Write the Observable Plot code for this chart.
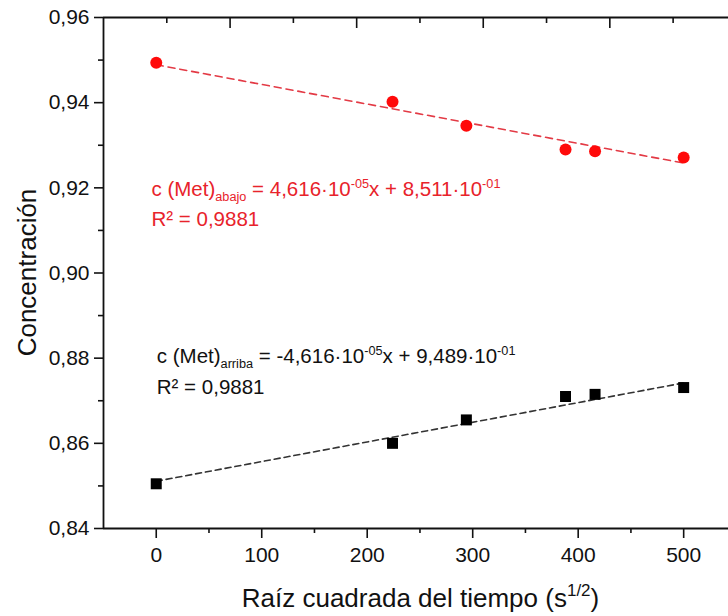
<!DOCTYPE html>
<html><head><meta charset="utf-8">
<script src="https://cdn.jsdelivr.net/npm/d3@7"></script>
<script src="https://cdn.jsdelivr.net/npm/@observablehq/plot@0.6"></script>
<style>body{margin:0;background:#fff}</style>
</head><body><div id="chart"></div>
<script>
// ---- data ----
const sqrtTime   = [0, 224, 294, 388, 416, 500];
const concAbajo  = [0.9494, 0.9402, 0.9346, 0.9290, 0.9286, 0.9271];
const concArriba = [0.8505, 0.8600, 0.8655, 0.8710, 0.8715, 0.8731];
const fitSlopes     = [-4.616e-5, 4.616e-5];   // abajo (red), arriba (black)
const fitIntercepts = [0.9489, 0.8511];
const xTicks   = [0, 100, 200, 300, 400, 500];
const xMinor   = [-50, 50, 150, 250, 350, 450];
const yTicks   = [0.84, 0.86, 0.88, 0.90, 0.92, 0.94, 0.96];
const yMinor   = [0.85, 0.87, 0.89, 0.91, 0.93, 0.95];
const topMajor = [70, 190, 310, 430];
const topMinor = [10, 130, 250, 370, 490];
const eqAbajo  = [[["c (Met)",""],["abajo","sub"],[" = 4,616·10",""],["-05","sup"],["x + 8,511·10",""],["-01","sup"]],[["R² = 0,9881",""]]];
const eqArriba = [[["c (Met)",""],["arriba","sub"],[" = -4,616·10",""],["-05","sup"],["x + 9,489·10",""],["-01","sup"]],[["R² = 0,9881",""]]];
const eqAnchors = [[-4, 0.9180], [1, 0.8787]];

const RED = "#ff0a0a", RED_TXT = "#e8232b", RED_LINE = "#e33a45";
const FONT = "'Liberation Sans', Arial, sans-serif";

const ptsAbajo  = sqrtTime.map((x, i) => ({x, y: concAbajo[i]}));
const ptsArriba = sqrtTime.map((x, i) => ({x, y: concArriba[i]}));
const xExt = d3.extent(sqrtTime);
const fitLine = k => xExt.map(x => ({x, y: fitIntercepts[k] + fitSlopes[k] * x}));
const fmtY = d => d.toFixed(2).replace(".", ",");

function richText(lines, anchor, color, size, gap) {
  return (index, scales) => {
    const g = d3.create("svg:g")
      .attr("font-family", FONT).attr("font-size", size).attr("fill", color)
      .attr("text-anchor", "start");
    const x0 = scales.x(anchor[0]), y0 = scales.y(anchor[1]);
    lines.forEach((parts, li) => {
      const t = g.append("text").attr("x", x0).attr("y", y0 + li * gap).attr("text-anchor", "start");
      let off = 0;
      parts.forEach(([s, kind]) => {
        const target = kind === "sub" ? 5 : kind === "sup" ? -8 : 0;
        t.append("tspan").attr("dy", target - off)
          .attr("font-size", kind ? size * 0.62 : size).text(s);
        off = target;
      });
    });
    return g.node();
  };
}

function xTitle(index, scales, values, dims) {
  const cx = (dims.marginLeft + dims.width - dims.marginRight) / 2 + 5;
  const t = d3.create("svg:text").attr("x", cx).attr("y", dims.height - 9)
    .attr("text-anchor", "middle").attr("font-family", FONT).attr("font-size", 26).attr("fill", "#111");
  t.append("tspan").text("Raíz cuadrada del tiempo (s");
  t.append("tspan").attr("dy", -11).attr("font-size", 17).text("1/2");
  t.append("tspan").attr("dy", 11).text(")");
  return t.node();
}

function yTitle(index, scales, values, dims) {
  const cy = (dims.marginTop + dims.height - dims.marginBottom) / 2;
  return d3.create("svg:text")
    .attr("transform", `translate(36,${cy}) rotate(-90)`)
    .attr("text-anchor", "middle").attr("font-family", FONT).attr("font-size", 26).attr("fill", "#111")
    .text("Concentración").node();
}

const chart = Plot.plot({
  width: 728, height: 616,
  marginLeft: 103, marginRight: 0, marginTop: 17, marginBottom: 88,
  style: {fontFamily: FONT, fontSize: "21px", color: "#111", background: "#fff"},
  x: {domain: [-50, 542.5]},
  y: {domain: [0.84, 0.96]},
  marks: [
    Plot.ruleY([0.96], {stroke: "#111", strokeWidth: 1.8}),
    Plot.ruleY([0.84], {stroke: "#111", strokeWidth: 1.8}),
    Plot.ruleX([-50], {stroke: "#111", strokeWidth: 1.8}),
    Plot.axisY({ticks: yTicks, tickSize: 9, tickPadding: 5, tickFormat: fmtY, fontSize: 21, strokeWidth: 1.6, label: null}),
    Plot.axisY({ticks: yMinor, tickSize: 5, text: null, strokeWidth: 1.6, label: null}),
    Plot.axisX({ticks: xTicks, tickSize: 10, tickPadding: 9, fontSize: 21, strokeWidth: 1.6, label: null}),
    Plot.axisX({ticks: xMinor.filter(d => d > -50), tickSize: 5, text: null, strokeWidth: 1.6, label: null}),
    Plot.axisX({anchor: "top", ticks: topMajor, tickSize: -10, text: null, strokeWidth: 1.6, label: null}),
    Plot.axisX({anchor: "top", ticks: topMinor, tickSize: -5, text: null, strokeWidth: 1.6, label: null}),
    yTitle,
    xTitle,
    Plot.line(fitLine(0), {x: "x", y: "y", stroke: RED_LINE, strokeWidth: 1.6, strokeDasharray: "7,5"}),
    Plot.line(fitLine(1), {x: "x", y: "y", stroke: "#333", strokeWidth: 1.6, strokeDasharray: "6,4"}),
    Plot.dot(ptsAbajo, {x: "x", y: "y", r: 6, fill: RED, stroke: "none"}),
    Plot.dot(ptsArriba, {x: "x", y: "y", r: 6.2, symbol: "square", fill: "#000", stroke: "none"}),
    richText(eqAbajo, eqAnchors[0], RED_TXT, 20.5, 30),
    richText(eqArriba, eqAnchors[1], "#111", 20.5, 31)
  ]
});
document.getElementById("chart").appendChild(chart);
</script>
</body></html>
